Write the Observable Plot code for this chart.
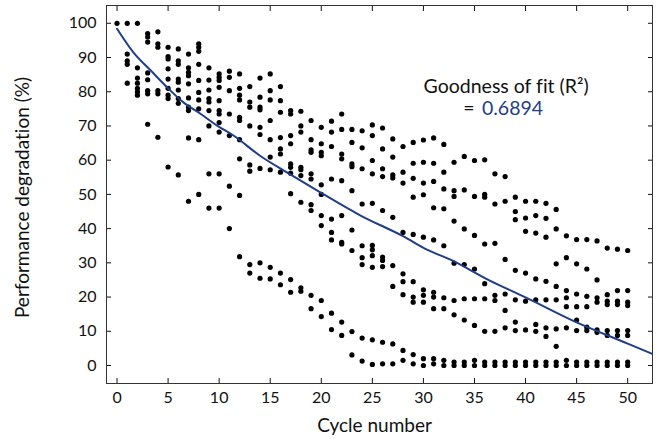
<!DOCTYPE html>
<html><head><meta charset="utf-8">
<script src="https://cdn.jsdelivr.net/npm/d3@7"></script>
<script src="https://cdn.jsdelivr.net/npm/@observablehq/plot@0.6"></script>
<style>body{margin:0;background:#fff;} svg text{font-variant-ligatures:none;}</style>
</head><body><div id="chart"></div>
<script>
// values observed at each cycle (index = cycle number)
const valuesByCycle = [
  [100],
  [100, 91, 89, 88, 82.5],
  [100, 87, 84, 82.5, 81, 80, 79],
  [97, 96, 94.5, 85.5, 83.5, 80.3, 79.4, 70.5],
  [97.5, 94, 93, 80.3, 79.4, 66.7],
  [93, 90.3, 89.6, 86.7, 83.7, 81, 79, 78, 58],
  [92.5, 89, 88, 83.7, 82.8, 80.5, 78, 76.6, 55.7],
  [91, 87, 85.7, 84.7, 82.3, 78.2, 75.5, 74.5, 66.5, 48],
  [94, 93, 91.8, 88, 83.3, 79.8, 77.6, 75, 66, 50],
  [87, 83.4, 80.5, 78, 77, 74.5, 70, 56, 46],
  [85.2, 84.2, 83.3, 81.3, 77.4, 74.5, 73.5, 71, 68.2, 56, 46],
  [86, 84.2, 80.3, 73.5, 67.2, 52.4, 40],
  [85.2, 81, 79, 77.6, 72.5, 71.6, 66, 60.4, 49.7, 31.8],
  [81.5, 77, 75.5, 70, 58.6, 56.8, 29.5, 27],
  [84, 78.4, 75.5, 74.7, 69.6, 67.5, 57.6, 30, 25.5],
  [85.2, 80.3, 77.6, 71.6, 66, 60.9, 57.2, 28.7, 25.3],
  [81.5, 77.4, 74, 66.6, 63.3, 61.8, 56.5, 27, 23.6],
  [74.5, 73.5, 67.2, 64.8, 58.9, 57.9, 56.2, 50.2, 25.1, 21.4],
  [74.3, 70, 68.2, 57.9, 57.2, 55.5, 47.7, 22.7, 21.7],
  [71.6, 66, 63, 62.3, 56, 54.5, 47, 45.3, 20.5, 16.6],
  [69.6, 64.8, 62.3, 61.3, 52.8, 50, 43.8, 40.9, 19, 14.3],
  [71.4, 68.2, 64, 54.5, 42.8, 38.9, 36.7, 15.3, 10.5],
  [73.5, 69, 61.8, 60.4, 54, 43.8, 36, 35.5, 12.7, 8.8],
  [69, 65.2, 58.9, 58.1, 51.1, 39.6, 33.6, 9.9, 3.1],
  [68.6, 63.6, 57.5, 47.2, 35, 31.5, 29.5, 8, 1.3],
  [70.3, 67.2, 59.9, 56, 47.4, 35.1, 33.8, 32.1, 28.7, 7.5, 0.3],
  [69.4, 63.3, 57.5, 55.2, 45.3, 31.7, 30.7, 28.9, 6.8, 0.5],
  [66.2, 60.9, 55.7, 54.8, 43.3, 29.2, 23.1, 6.3, 0.5],
  [64, 56.5, 53.3, 38.9, 26.8, 24.5, 20.7, 4.4, 1.5],
  [65.2, 59.1, 54.7, 49.2, 38.3, 24.5, 20, 18.5, 3.2, 0.5],
  [65.9, 59.4, 53.3, 49.9, 37.5, 22.1, 20.5, 18.5, 2, 0],
  [66.5, 59.1, 53.8, 46.1, 36.7, 21.4, 20, 16.6, 2, 0.5],
  [64.6, 56.5, 51.6, 45.8, 35, 19.8, 16.6, 1.5, 0],
  [59.4, 51.1, 49.4, 42.2, 29.9, 19, 14.8, 1, 0],
  [61.1, 51.3, 39.9, 29.5, 19.5, 13.3, 1, 0],
  [59.9, 49.4, 38, 28.2, 19.5, 11.7, 1.5, 0],
  [60.1, 50, 49.2, 35.5, 23.9, 19.5, 10, 1, 0],
  [56, 47.2, 35.7, 20.5, 19, 10, 1, 0],
  [55.2, 48, 31, 20.9, 16.1, 11, 1, 0],
  [49.2, 45, 42.6, 27.8, 19.2, 12.7, 10.2, 1, 0],
  [48, 43.1, 39.2, 27, 18.8, 10.4, 1, 0],
  [48, 43.8, 38.7, 25.3, 19.2, 12, 10, 1, 0],
  [47.4, 43, 37.5, 24.6, 19.2, 11, 8.5, 1, 0],
  [45.6, 39.9, 29.7, 23.1, 19.2, 10.7, 5.6, 1, 0],
  [37.9, 31.5, 21.9, 19.8, 17.2, 11, 1.5, 0],
  [36.8, 29.7, 20.9, 17.2, 13.3, 10.2, 1, 0],
  [36.8, 28.2, 20.2, 17.2, 11.2, 10.2, 1, 0],
  [36.4, 25, 19.8, 18.5, 10.4, 9.7, 1, 0],
  [34.3, 20.7, 18.8, 17.8, 10.2, 8.8, 1, 0],
  [34, 21.9, 18.8, 17.8, 10.2, 8.8, 1, 0],
  [33.6, 21.9, 18.5, 17.5, 10.2, 8.8, 1, 0]
];

// fitted curve
const fitCycle = [0, 1.6, 3.3, 4.9, 6.5, 8.2, 9.8, 11.4, 14, 17, 19.9, 23.8, 28, 30.4, 32.6, 36.5, 40, 45, 50, 52.4];
const fitValue = [98.4, 91.5, 86.2, 81.3, 76.9, 73.5, 70.1, 67.2, 61.3, 55.8, 50.6, 43.9, 37.8, 33.8, 31, 24.8, 19.9, 12.6, 6.4, 3.4];

const xTicks = [0, 5, 10, 15, 20, 25, 30, 35, 40, 45, 50];
const yTicks = [0, 10, 20, 30, 40, 50, 60, 70, 80, 90, 100];
const xTitle = "Cycle number";
const yTitle = "Performance degradation (%)";
const fitLabel = "Goodness of fit (R\u00B2)";
const fitEq = "=";
const fitR2 = "0.6894";

const points = valuesByCycle.flatMap((vals, c) => vals.map(v => ({cycle: c, value: v})));
const fit = fitCycle.map((c, i) => ({cycle: c, value: fitValue[i]}));

const blue = "#1f3d8c";
const font = "Lato, 'Open Sans', sans-serif";

const chart = Plot.plot({
  width: 662,
  height: 439,
  marginLeft: 106,
  marginRight: 10,
  marginTop: 5,
  marginBottom: 56,
  style: {fontFamily: font, fontSize: "16px", color: "#111", background: "#fff"},
  x: {domain: [-1.03, 52.43]},
  y: {domain: [-5.26, 105.2]},
  marks: [
    Plot.axisX({ticks: xTicks, anchor: "bottom", tickSize: -5, tickPadding: 13, label: null, fontSize: 16}),
    Plot.axisX({ticks: xTicks, anchor: "top", tickSize: -5, tickFormat: () => "", label: null}),
    Plot.axisY({ticks: yTicks, anchor: "left", tickSize: -5, tickPadding: 15, label: null, fontSize: 16}),
    Plot.axisY({ticks: yTicks, anchor: "right", tickSize: -5, tickFormat: () => "", label: null}),
    Plot.frame({stroke: "#333", strokeWidth: 1}),
    Plot.dot(points, {x: "cycle", y: "value", r: 2.6, fill: "black", stroke: null}),
    Plot.line(fit, {x: "cycle", y: "value", stroke: blue, strokeWidth: 2, curve: "monotone-x"}),
    Plot.text([xTitle], {frameAnchor: "bottom", dy: 42, dx: -5, text: d => d, fontSize: 19, textAnchor: "middle", lineAnchor: "middle", fill: "#111"}),
    Plot.text([yTitle], {frameAnchor: "left", dx: -84, dy: 3, rotate: -90, text: d => d, fontSize: 19, textAnchor: "middle", lineAnchor: "middle", fill: "#111"}),
    Plot.text([fitLabel], {x: 38.1, y: 81.6, text: d => d, fontSize: 19.5, lineAnchor: "middle", fill: "#111"}),
    Plot.text([fitEq], {x: 35.0, y: 75.1, text: d => d, fontSize: 19.5, textAnchor: "end", lineAnchor: "middle", fill: "#111"}),
    Plot.text([fitR2], {x: 35.73, y: 75.1, text: d => d, fontSize: 19.5, textAnchor: "start", lineAnchor: "middle", fill: blue})
  ]
});
document.getElementById("chart").appendChild(chart);
</script>
</body></html>
